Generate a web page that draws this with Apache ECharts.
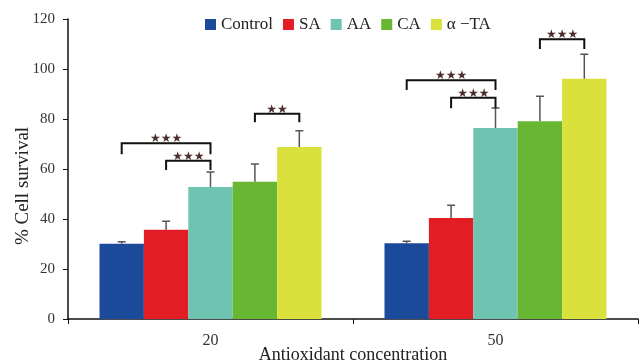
<!DOCTYPE html>
<html>
<head>
<meta charset="utf-8">
<script src="https://cdn.jsdelivr.net/npm/echarts@6/dist/echarts.min.js"></script>
<style>
  html, body { margin: 0; padding: 0; background: #fff; }
  #chart { width: 640px; height: 364px; }
</style>
</head>
<body>
<div id="chart"></div>
<script>
// Antioxidant concentrations on the x axis
const categories = ['20', '50'];
const seriesNames = ['Control', 'SA', 'AA', 'CA', 'α −TA'];
const seriesColors = ['#1b4a9a', '#e31d24', '#6ec4b1', '#67b732', '#dae13d'];

// Mean % cell survival per treatment
const control = [30.1, 30.3];
const sa = [35.7, 40.4];
const aa = [52.8, 76.4];
const ca = [54.9, 79.1];
const ta = [68.8, 96.1];

// Standard deviations (upper whisker)
const controlErr = [0.8, 0.8];
const saErr = [3.4, 5.1];
const aaErr = [6.0, 8.0];
const caErr = [7.1, 10.0];
const taErr = [6.5, 9.8];

// Significance brackets: category, first bar, second bar, bar height, leg end, mark
const bracketCategory = [0, 0, 0, 1, 1, 1];
const bracketFrom = [0, 1, 3, 0, 1, 3];
const bracketTo = [2, 2, 4, 2, 2, 4];
const bracketTop = [70.3, 63.3, 82.1, 95.5, 88.5, 111.9];
const bracketLeg = [65.9, 59.6, 78.7, 91.6, 84.3, 108.0];
const bracketMark = ['★★★', '★★★', '★★', '★★★', '★★★', '★★★'];

const yTicks = { min: 0, max: 120, interval: 20 };

const means = [control, sa, aa, ca, ta];
const errs = [controlErr, saErr, aaErr, caErr, taErr];
const GAP = 0.221; // barCategoryGap as a fraction
const SERIF = '"Liberation Serif", "DejaVu Serif", serif';

function barCenterX(api, cat, idx) {
  const c = api.coord([cat, 0])[0];
  const band = api.size([1, 0])[0];
  const groupW = band * (1 - GAP);
  const bw = groupW / seriesNames.length;
  return c - groupW / 2 + (idx + 0.5) * bw;
}

const errData = [];
means.forEach((arr, i) => arr.forEach((v, c) => errData.push([c, i, v, errs[i][c]])));

const bracketData = bracketCategory.map((c, k) =>
  [c, bracketFrom[k], bracketTo[k], bracketTop[k], bracketLeg[k], bracketMark[k]]);

const barSeries = seriesNames.map((name, i) => ({
  name: name,
  type: 'bar',
  data: means[i],
  barGap: '0%',
  barCategoryGap: (GAP * 100) + '%',
  itemStyle: { color: seriesColors[i] },
  emphasis: { disabled: true }
}));

const chart = echarts.init(document.getElementById('chart'), null, { renderer: 'canvas' });
chart.setOption({
  animation: false,
  backgroundColor: '#ffffff',
  grid: { left: 68, right: 2, top: 19, bottom: 45, containLabel: false, outerBoundsMode: 'none' },
  legend: {
    data: seriesNames,
    left: 205,
    top: 16,
    padding: 0,
    icon: 'rect',
    itemWidth: 11,
    itemHeight: 11,
    itemGap: 10,
    textStyle: { fontFamily: SERIF, fontSize: 17, color: '#222' }
  },
  xAxis: {
    type: 'category',
    data: categories,
    axisLine: { lineStyle: { color: '#111', width: 1.5 } },
    axisTick: { show: true, length: 5, lineStyle: { color: '#111' } },
    axisLabel: { fontFamily: SERIF, fontSize: 16, color: '#333', margin: 14 },
    name: 'Antioxidant concentration',
    nameLocation: 'middle',
    nameGap: 27,
    nameMoveOverlap: false,
    nameTextStyle: { fontFamily: SERIF, fontSize: 18, color: '#222' }
  },
  yAxis: {
    type: 'value',
    min: yTicks.min,
    max: yTicks.max,
    interval: yTicks.interval,
    splitLine: { show: false },
    axisLine: { show: true, lineStyle: { color: '#111', width: 1.5 } },
    axisTick: { show: true, length: 5, lineStyle: { color: '#111' } },
    axisLabel: { fontFamily: SERIF, fontSize: 15, color: '#333', margin: 13 },
    name: '% Cell survival',
    nameLocation: 'middle',
    nameGap: 35,
    nameMoveOverlap: false,
    nameTextStyle: { fontFamily: SERIF, fontSize: 19, color: '#222', padding: [0, 34, 0, 0] }
  },
  series: barSeries.concat([
    {
      name: 'error',
      type: 'custom',
      data: errData,
      encode: { x: 0, y: 2 },
      z: 5,
      silent: true,
      renderItem: function (params, api) {
        const cat = api.value(0), idx = api.value(1), v = api.value(2), e = api.value(3);
        const x = barCenterX(api, cat, idx);
        const y0 = api.coord([cat, v])[1];
        const y1 = api.coord([cat, v + e])[1];
        const st = { stroke: '#555', lineWidth: 1.5, fill: null };
        return {
          type: 'group',
          children: [
            { type: 'line', shape: { x1: x, y1: y0, x2: x, y2: y1 }, style: st },
            { type: 'line', shape: { x1: x - 4, y1: y1, x2: x + 4, y2: y1 }, style: st }
          ]
        };
      }
    },
    {
      name: 'significance',
      type: 'custom',
      data: bracketData,
      encode: { x: 0, y: 3 },
      z: 6,
      silent: true,
      renderItem: function (params, api) {
        const cat = api.value(0);
        const xa = barCenterX(api, cat, api.value(1));
        const xb = barCenterX(api, cat, api.value(2));
        const yt = api.coord([cat, api.value(3)])[1];
        const yl = api.coord([cat, api.value(4)])[1];
        const mark = bracketData[params.dataIndex][5];
        return {
          type: 'group',
          children: [
            {
              type: 'polyline',
              shape: { points: [[xa, yl], [xa, yt], [xb, yt], [xb, yl]] },
              style: { stroke: '#111', lineWidth: 2, fill: null }
            },
            {
              type: 'text',
              style: {
                x: (xa + xb) / 2,
                y: yt + 2,
                text: mark,
                align: 'center',
                verticalAlign: 'bottom',
                font: '12px "DejaVu Sans"',
                fill: '#4b2d2b'
              }
            }
          ]
        };
      }
    }
  ])
});
</script>
</body>
</html>
